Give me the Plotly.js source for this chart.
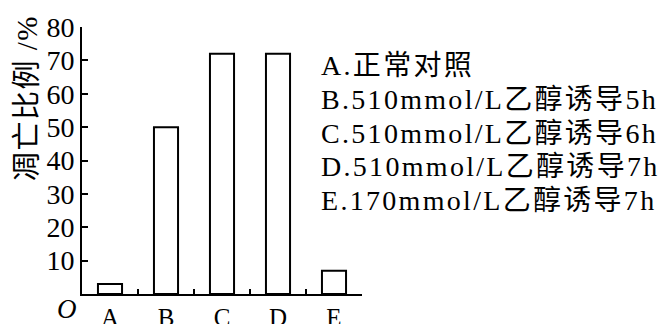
<!DOCTYPE html>
<html><head><meta charset="utf-8">
<script src="https://cdn.plot.ly/plotly-3.0.1.min.js"></script>
<style>html,body{margin:0;padding:0;background:#fff}</style>
</head><body>
<div id="chart" style="width:664px;height:324px"></div>
<script>
const categories = ["A","B","C","D","E"];
const apoptosisRate = [3, 50, 72, 72, 7];
const yTicks = [10,20,30,40,50,60,70,80];
const legendLines = [
  "A.正常对照",
  "B.510mmol/L乙醇诱导5h",
  "C.510mmol/L乙醇诱导6h",
  "D.510mmol/L乙醇诱导7h",
  "E.170mmol/L乙醇诱导7h"
];
const yTitle = "凋亡比例 /%";

const SERIF = "Liberation Serif, Times New Roman, serif";
const CJK = "Noto Sans CJK SC";
function styleText(t, size, spacing) {
  return t.split(/([\u4e00-\u9fff]+)/).filter(s=>s.length).map(s=>{
    const isCJK = /[\u4e00-\u9fff]/.test(s);
    const fam = isCJK ? CJK : SERIF;
    return '<span style="font-family:' + fam + ';font-size:' + size + 'px;letter-spacing:' + spacing + 'px">' + s + '</span>';
  }).join('');
}

const annotations = [{
  xref:"paper", yref:"paper", x:0.845, y:0.614, xanchor:"left", yanchor:"middle", align:"left",
  text:legendLines.map(t=>styleText(t, 28, 2.3)).join('<br>'),
  showarrow:false, font:{family:SERIF, size:26, color:"#000"}
}];
// origin label
annotations.push({xref:"paper", yref:"paper", x:-0.01, y:0.008, xanchor:"right", yanchor:"top",
  text:"<i>O</i>", showarrow:false, font:{family:SERIF, size:27, color:"#000"}});
// y-axis title, top-aligned as in the reference
annotations.push({xref:"paper", yref:"paper", x:-0.207, y:0.734, xanchor:"center", yanchor:"middle",
  textangle:-90, text:styleText(yTitle, 29, 1.5), showarrow:false, font:{family:SERIF, size:29, color:"#000"}});

Plotly.newPlot("chart", [{
  type:"bar", x:categories, y:apoptosisRate, width:0.43,
  marker:{color:"#fff", line:{color:"#000", width:2}},
  hoverinfo:"skip"
}], {
  width:664, height:324,
  margin:{l:82, r:302, t:27, b:30, pad:0},
  paper_bgcolor:"#fff", plot_bgcolor:"#fff",
  showlegend:false,
  font:{family:SERIF, color:"#000"},
  xaxis:{
    type:"category", range:[-0.5,4.5], tickson:"boundaries",
    ticks:"inside", ticklen:5, tickwidth:2, tickcolor:"#000",
    showline:true, linecolor:"#000", linewidth:2, showgrid:false, zeroline:false,
    tickfont:{family:SERIF, size:25, color:"#000"}
  },
  yaxis:{
    range:[0,80], tickvals:yTicks, ticks:"inside", ticklen:6, tickwidth:2, tickcolor:"#000",
    showline:true, linecolor:"#000", linewidth:2, showgrid:false, zeroline:false,
    tickfont:{family:SERIF, size:28, color:"#000"}
  },
  annotations:annotations
}, {displayModeBar:false, staticPlot:true});
</script>
</body></html>
